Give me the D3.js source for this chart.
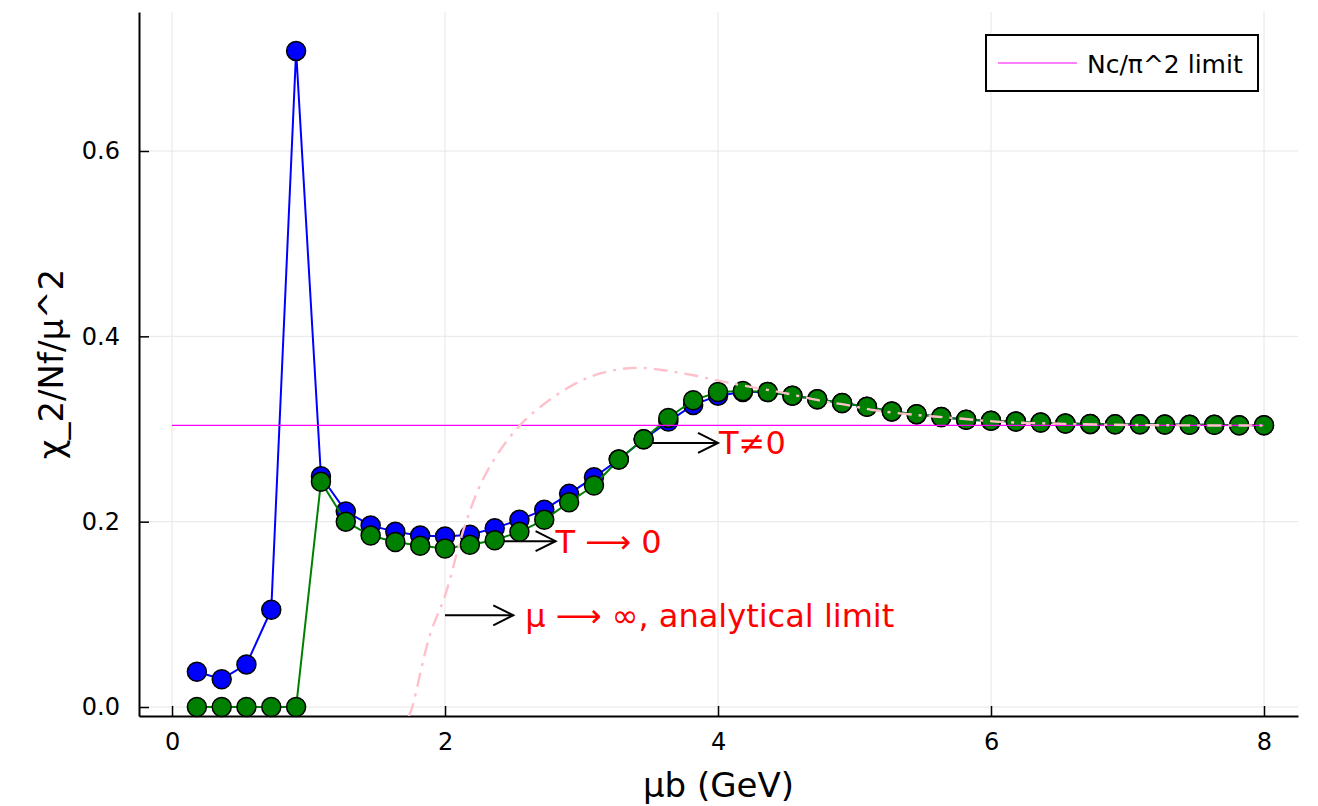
<!DOCTYPE html>
<html>
<head>
<meta charset="utf-8">
<script src="https://cdn.jsdelivr.net/npm/d3@7"></script>
<style>
  html, body { margin: 0; padding: 0; background: #fff; }
  svg { display: block; font-family: "DejaVu Sans", sans-serif; }
</style>
</head>
<body>
<div id="chart"></div>
<script>
// μb grid (GeV) shared by both scans
const muGrid = [
  0.182, 0.364, 0.545, 0.727, 0.909, 1.091, 1.273, 1.455, 1.636, 1.818, 2.0,
  2.182, 2.364, 2.545, 2.727, 2.909, 3.091, 3.273, 3.455, 3.636, 3.818, 4.0,
  4.182, 4.364, 4.545, 4.727, 4.909, 5.091, 5.273, 5.455, 5.636, 5.818, 6.0,
  6.182, 6.364, 6.545, 6.727, 6.909, 7.091, 7.273, 7.455, 7.636, 7.818, 8.0,
];

// T ≠ 0 scan (blue)
const chiFiniteT = [
  0.038, 0.030, 0.046, 0.105, 0.708, 0.249, 0.211, 0.196, 0.189, 0.185, 0.184,
  0.186, 0.193, 0.202, 0.213, 0.230, 0.248, 0.267, 0.289, 0.308, 0.326, 0.336,
  0.340, 0.340, 0.336, 0.332, 0.328, 0.324, 0.319, 0.316, 0.313, 0.310, 0.309,
  0.308, 0.307, 0.306, 0.3055, 0.305, 0.305, 0.3048, 0.3045, 0.3045, 0.304, 0.304,
];

// T → 0 scan (green)
const chiZeroT = [
  0.0, 0.0, 0.0, 0.0, 0.0, 0.243, 0.200, 0.185, 0.178, 0.174, 0.171,
  0.175, 0.180, 0.189, 0.202, 0.221, 0.239, 0.267, 0.289, 0.312, 0.331, 0.340,
  0.341, 0.340, 0.336, 0.332, 0.328, 0.324, 0.319, 0.316, 0.313, 0.310, 0.309,
  0.308, 0.307, 0.306, 0.3055, 0.305, 0.305, 0.3048, 0.3045, 0.3045, 0.304, 0.304,
];

// μ → ∞ analytical limit (pink dash-dot)
const limitMu = [
  1.735, 1.76, 1.89, 2.0, 2.15, 2.3, 2.53, 2.79, 3.04, 3.26, 3.43, 3.62, 3.82,
  4.01, 4.18, 4.48, 4.77, 4.94, 5.16, 5.46, 5.75, 6.07, 6.43, 6.8, 7.29, 8.0,
];
const limitChi = [
  -0.01, 0.0, 0.078, 0.12, 0.198, 0.252, 0.301, 0.334, 0.355, 0.364, 0.366, 0.363, 0.358,
  0.352, 0.347, 0.339, 0.330, 0.326, 0.320, 0.315, 0.3116, 0.3077, 0.306, 0.3048, 0.304, 0.3037,
];

// Nc/π^2 line
const ncLimit = 3 / (Math.PI * Math.PI);
const ncLimitMu = [0, 8];

const xTicks = [0, 2, 4, 6, 8];
const yTicks = [0, 0.2, 0.4, 0.6];

// annotations: arrow from noteX0 to noteX1 at noteY, red text after the tip
const noteText = ["T≠0", "T ⟶ 0", "μ ⟶ ∞, analytical limit"];
const noteX0 = [3.5, 2.4, 2.0];
const noteX1 = [4.0, 2.81, 2.5];
const noteY = [0.285, 0.179, 0.099];
const noteGap = [1, 0, 12];

const width = 1318;
const height = 806;
const plot = { left: 139, right: 1298, top: 12, bottom: 716 };

const svg = d3
  .select("#chart")
  .append("svg")
  .attr("width", width)
  .attr("height", height)
  .attr("viewBox", `0 0 ${width} ${height}`);

const x = d3.scaleLinear().domain([-0.242, 8.249]).range([plot.left, plot.right]);
const y = d3.scaleLinear().domain([-0.0097, 0.75]).range([plot.bottom, plot.top]);

svg
  .append("defs")
  .append("clipPath")
  .attr("id", "plot-clip")
  .append("rect")
  .attr("x", plot.left)
  .attr("y", plot.top)
  .attr("width", plot.right - plot.left)
  .attr("height", plot.bottom - plot.top);

// grid
const grid = svg.append("g").attr("stroke", "#e6e6e6").attr("stroke-width", 1);
grid
  .selectAll(".gx")
  .data(xTicks)
  .join("line")
  .attr("x1", (d) => x(d))
  .attr("x2", (d) => x(d))
  .attr("y1", plot.top)
  .attr("y2", plot.bottom);
grid
  .selectAll(".gy")
  .data(yTicks)
  .join("line")
  .attr("x1", plot.left)
  .attr("x2", plot.right)
  .attr("y1", (d) => y(d))
  .attr("y2", (d) => y(d));

// axes (ticks point inward)
svg
  .append("g")
  .attr("transform", `translate(0,${plot.bottom})`)
  .call(d3.axisBottom(x).tickValues(xTicks).tickFormat(d3.format("d")).tickSize(-10).tickSizeOuter(0).tickPadding(17))
  .call((g) => g.select(".domain").attr("stroke", "#000").attr("stroke-width", 2))
  .call((g) => g.selectAll(".tick line").attr("stroke", "#000").attr("stroke-width", 1.5))
  .call((g) => g.selectAll("text").attr("font-size", 24).attr("font-family", "DejaVu Sans").attr("fill", "#000"));

svg
  .append("g")
  .attr("transform", `translate(${plot.left},0)`)
  .call(d3.axisLeft(y).tickValues(yTicks).tickFormat(d3.format(".1f")).tickSize(-10).tickSizeOuter(0).tickPadding(19))
  .call((g) => g.select(".domain").attr("stroke", "#000").attr("stroke-width", 2))
  .call((g) => g.selectAll(".tick line").attr("stroke", "#000").attr("stroke-width", 1.5))
  .call((g) => g.selectAll("text").attr("font-size", 24).attr("font-family", "DejaVu Sans").attr("fill", "#000"));

// axis titles
svg
  .append("text")
  .attr("x", (plot.left + plot.right) / 2)
  .attr("y", 797)
  .attr("text-anchor", "middle")
  .attr("font-size", 34)
  .text("μb (GeV)");

svg
  .append("text")
  .attr("transform", `translate(63,${(plot.top + plot.bottom) / 2}) rotate(-90)`)
  .attr("text-anchor", "middle")
  .attr("font-size", 34)
  .text("χ_2/Nf/μ^2");

// annotation arrows (under the markers)
const arrows = svg.append("g").attr("stroke", "#000").attr("stroke-width", 2).attr("fill", "none");
noteText.forEach((_, i) => {
  const x0 = x(noteX0[i]);
  const x1 = x(noteX1[i]);
  const yy = y(noteY[i]);
  arrows.append("line").attr("x1", x0).attr("x2", x1).attr("y1", yy).attr("y2", yy);
  arrows.append("path").attr("d", `M${x1 - 20},${yy - 10}L${x1},${yy}L${x1 - 20},${yy + 10}`);
});

const points = muGrid.map((mu, i) => ({ mu, finite: chiFiniteT[i], zero: chiZeroT[i] }));

function drawSeries(key, color) {
  const line = d3
    .line()
    .x((d) => x(d.mu))
    .y((d) => y(d[key]));
  svg
    .append("path")
    .datum(points)
    .attr("fill", "none")
    .attr("stroke", color)
    .attr("stroke-width", 2)
    .attr("d", line);
  svg
    .append("g")
    .selectAll("circle")
    .data(points)
    .join("circle")
    .attr("cx", (d) => x(d.mu))
    .attr("cy", (d) => y(d[key]))
    .attr("r", 9.5)
    .attr("fill", color)
    .attr("stroke", "#000")
    .attr("stroke-width", 1.5);
}

drawSeries("finite", "#0000ff");
drawSeries("zero", "#008000");

// Nc/π^2 limit
svg
  .append("line")
  .attr("x1", x(ncLimitMu[0]))
  .attr("x2", x(ncLimitMu[1]))
  .attr("y1", y(ncLimit))
  .attr("y2", y(ncLimit))
  .attr("stroke", "#ff00ff")
  .attr("stroke-width", 1.2);

// analytical limit
svg
  .append("path")
  .datum(limitMu.map((mu, i) => [mu, limitChi[i]]))
  .attr("clip-path", "url(#plot-clip)")
  .attr("fill", "none")
  .attr("stroke", "#ffc0cb")
  .attr("stroke-width", 2.4)
  .attr("stroke-dasharray", "14,7,3,7")
  .attr("d", d3.line().x((d) => x(d[0])).y((d) => y(d[1])).curve(d3.curveCatmullRom));

// annotation texts
svg
  .append("g")
  .selectAll("text")
  .data(noteText)
  .join("text")
  .attr("x", (d, i) => x(noteX1[i]) + noteGap[i])
  .attr("y", (d, i) => y(noteY[i]))
  .attr("dy", "0.36em")
  .attr("font-size", 32)
  .attr("fill", "#ff0000")
  .text((d) => d);

// legend
const legend = svg.append("g");
legend
  .append("rect")
  .attr("x", 986)
  .attr("y", 35)
  .attr("width", 272)
  .attr("height", 56)
  .attr("fill", "#fff")
  .attr("stroke", "#000")
  .attr("stroke-width", 2);
legend
  .append("line")
  .attr("x1", 998)
  .attr("x2", 1077)
  .attr("y1", 63)
  .attr("y2", 63)
  .attr("stroke", "#ff00ff")
  .attr("stroke-width", 1.2);
legend
  .append("text")
  .attr("x", 1087)
  .attr("y", 73)
  .attr("font-size", 25)
  .text("Nc/π^2 limit");
</script>
</body>
</html>
